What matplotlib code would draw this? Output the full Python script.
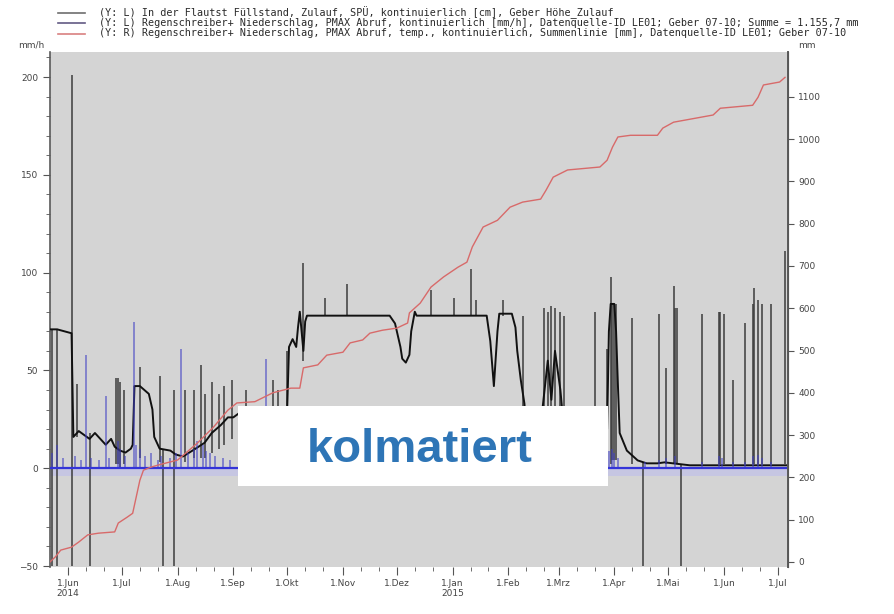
import matplotlib
matplotlib.use("Agg")
import matplotlib.pyplot as plt
import matplotlib.dates as mdates
from matplotlib.lines import Line2D
from matplotlib.patches import Rectangle
import pandas as pd

W, H = 895, 614

# Fuellstand Zulauf [cm] (left axis), smooth part of the trace
LEVEL_DATES = [
    "2014-05-22", "2014-05-26", "2014-06-03", "2014-06-04", "2014-06-07", "2014-06-10",
    "2014-06-13", "2014-06-16", "2014-06-19", "2014-06-22", "2014-06-25", "2014-06-27",
    "2014-06-30", "2014-07-03", "2014-07-06", "2014-07-07", "2014-07-08", "2014-07-11",
    "2014-07-16", "2014-07-18", "2014-07-19", "2014-07-22", "2014-07-28", "2014-07-31",
    "2014-08-04", "2014-08-11", "2014-08-16", "2014-08-20", "2014-08-25", "2014-08-29",
    "2014-09-01", "2014-09-04", "2014-09-16", "2014-09-30", "2014-10-01", "2014-10-02",
    "2014-10-04", "2014-10-06", "2014-10-07", "2014-10-08", "2014-10-10", "2014-10-11",
    "2014-10-12", "2014-11-27", "2014-11-30", "2014-12-03", "2014-12-04", "2014-12-06",
    "2014-12-08", "2014-12-09", "2014-12-11", "2014-12-12", "2015-01-20", "2015-01-22",
    "2015-01-24", "2015-01-26", "2015-01-27", "2015-02-03", "2015-02-05", "2015-02-06",
    "2015-02-08", "2015-02-10", "2015-02-11", "2015-02-13", "2015-02-19", "2015-02-20",
    "2015-02-23", "2015-02-25", "2015-02-27", "2015-03-02", "2015-03-04", "2015-03-06",
    "2015-03-21", "2015-03-28", "2015-03-29", "2015-03-30", "2015-04-01", "2015-04-02",
    "2015-04-03", "2015-04-04", "2015-04-08", "2015-04-14", "2015-04-19", "2015-04-25",
    "2015-04-29", "2015-05-13", "2015-07-06",
]
LEVEL_VALUES = [
    71, 71, 69, 16, 19, 17,
    15, 18, 15, 12, 15, 11,
    9, 8, 10, 12, 42, 42,
    38, 30, 16, 10, 9, 7,
    6, 10, 13, 18, 22, 26,
    26, 28, 29, 30, 31, 62,
    66, 62, 72, 80, 60, 75,
    78, 78, 74, 62, 56, 54,
    58, 70, 80, 78, 78, 65,
    42, 70, 79, 79, 72, 60,
    45, 33, 20, 10, 10, 30,
    55, 35, 60, 40, 20, 10,
    8, 20, 70, 84, 84, 70,
    43, 18, 9, 4, 2.5, 2.5,
    3, 1.5, 1.5,
]

# short excursions of the level sensor (bottom, top) [cm]
SPIKE_DATES = [
    "2014-05-23", "2014-05-26", "2014-06-03", "2014-06-06", "2014-06-13", "2014-06-28",
    "2014-06-29", "2014-06-30", "2014-07-02", "2014-07-11", "2014-07-22", "2014-07-24",
    "2014-07-30", "2014-08-05", "2014-08-10", "2014-08-14", "2014-08-16", "2014-08-20",
    "2014-08-24", "2014-08-27", "2014-08-31", "2014-09-08", "2014-09-23", "2014-09-26",
    "2014-10-01", "2014-10-10", "2014-10-22", "2014-11-03", "2014-12-20", "2015-01-02",
    "2015-01-11", "2015-01-14", "2015-01-29", "2015-02-09", "2015-02-21", "2015-02-23",
    "2015-02-25", "2015-02-27", "2015-03-02", "2015-03-04", "2015-03-21", "2015-03-28",
    "2015-03-30", "2015-03-31", "2015-04-01", "2015-04-02", "2015-04-11", "2015-04-17",
    "2015-04-26", "2015-04-30", "2015-05-04", "2015-05-05", "2015-05-06", "2015-05-08",
    "2015-05-20", "2015-05-29", "2015-05-30", "2015-06-01", "2015-06-06", "2015-06-13",
    "2015-06-17", "2015-06-18", "2015-06-20", "2015-06-22", "2015-06-27", "2015-07-05",
]
SPIKE_LOW = [
    -50, -50, -50, 16, -50, 2,
    2, 0, 2, 5, 3, -50,
    -50, 3, 5, 5, 5, 8,
    10, 12, 15, 28, 28, 28,
    28, 55, 78, 78, 78, 78,
    78, 78, 78, 10, 10, 10,
    10, 10, 10, 10, 2, 2,
    2, 4, 4, 4, 2, -50,
    2, 2, 2, 2, 2, -50,
    2, 2, 2, 2, 2, 2,
    2, 2, 2, 2, 2, 2,
]
SPIKE_HIGH = [
    71, 71, 201, 43, 18, 46,
    46, 44, 40, 52, 47, 10,
    40, 40, 40, 53, 38, 44,
    38, 42, 45, 40, 45, 40,
    60, 105, 87, 94, 91, 87,
    102, 86, 86, 78, 82, 80,
    83, 82, 80, 78, 80, 61,
    98, 84, 84, 84, 77, 3,
    79, 51, 93, 82, 82, 2,
    79, 80, 80, 79, 45, 74,
    84, 92, 86, 84, 84, 111,
]

# Niederschlag [mm/h] (left axis)
RAIN_DATES = [
    "2014-05-23", "2014-05-26", "2014-05-29", "2014-06-05", "2014-06-08", "2014-06-11",
    "2014-06-14", "2014-06-18", "2014-06-22", "2014-06-24", "2014-06-29", "2014-06-30",
    "2014-07-03", "2014-07-08", "2014-07-09", "2014-07-11", "2014-07-14", "2014-07-17",
    "2014-07-21", "2014-07-23", "2014-07-28", "2014-07-31", "2014-08-03", "2014-08-07",
    "2014-08-10", "2014-08-12", "2014-08-15", "2014-08-17", "2014-08-19", "2014-08-22",
    "2014-08-26", "2014-08-30", "2014-09-19", "2014-10-05", "2014-10-08", "2014-10-10",
    "2015-03-29", "2015-03-31", "2015-04-01", "2015-04-03", "2015-04-18", "2015-04-26",
    "2015-04-30", "2015-05-05", "2015-05-20", "2015-05-29", "2015-05-31", "2015-06-06",
    "2015-06-13", "2015-06-17", "2015-06-20", "2015-06-22", "2015-06-27",
]
RAIN_VALUES = [
    8, 12, 5, 6, 4, 58,
    5, 4, 37, 5, 14, 10,
    6, 75, 12, 10, 6, 8,
    4, 6, 5, 8, 61, 8,
    10, 14, 12, 9, 8, 6,
    5, 4, 56, 6, 15, 10,
    9, 10, 8, 5, 3, 4,
    5, 6, 3, 6, 5, 3,
    3, 6, 7, 5, 3,
]

# Niederschlag Summenlinie [mm] (right axis)
SUM_DATES = [
    "2014-05-22", "2014-05-25", "2014-05-28", "2014-06-03", "2014-06-07", "2014-06-12",
    "2014-06-18", "2014-06-27", "2014-06-29", "2014-07-04", "2014-07-07", "2014-07-09",
    "2014-07-11", "2014-07-13", "2014-07-17", "2014-07-22", "2014-08-01", "2014-08-12",
    "2014-08-21", "2014-08-29", "2014-09-03", "2014-09-13", "2014-09-23", "2014-10-03",
    "2014-10-08", "2014-10-10", "2014-10-18", "2014-10-23", "2014-11-01", "2014-11-05",
    "2014-11-12", "2014-11-16", "2014-11-23", "2014-12-01", "2014-12-07", "2014-12-08",
    "2014-12-14", "2014-12-20", "2014-12-27", "2015-01-04", "2015-01-09", "2015-01-12",
    "2015-01-18", "2015-01-26", "2015-02-02", "2015-02-09", "2015-02-19", "2015-02-22",
    "2015-02-26", "2015-03-06", "2015-03-24", "2015-03-28", "2015-03-31", "2015-04-03",
    "2015-04-10", "2015-04-25", "2015-04-28", "2015-05-04", "2015-05-26", "2015-05-30",
    "2015-06-17", "2015-06-20", "2015-06-23", "2015-07-02", "2015-07-05",
]
SUM_VALUES = [
    0, 12, 28, 35, 47, 64,
    68, 71, 92, 106, 115, 154,
    193, 217, 224, 230, 241, 281,
    319, 359, 376, 379, 400, 411,
    411, 459, 466, 489, 496, 518,
    525, 541, 548, 553, 565, 589,
    612, 650, 674, 697, 709, 745,
    792, 808, 839, 851, 858, 879,
    910, 927, 934, 950, 981, 1005,
    1009, 1009, 1026, 1040, 1057, 1073,
    1080, 1099, 1128, 1135, 1146,
]

MONTH_TICKS = [
    "2014-06-01", "2014-07-01", "2014-08-01", "2014-09-01", "2014-10-01", "2014-11-01",
    "2014-12-01", "2015-01-01", "2015-02-01", "2015-03-01", "2015-04-01", "2015-05-01",
    "2015-06-01", "2015-07-01",
]
MONTH_LABELS = [
    "1.Jun\n2014", "1.Jul", "1.Aug", "1.Sep", "1.Okt", "1.Nov",
    "1.Dez", "1.Jan\n2015", "1.Feb", "1.Mrz", "1.Apr", "1.Mai",
    "1.Jun", "1.Jul",
]

LEGEND_TEXTS = [
    "(Y: L) In der Flautst Füllstand, Zulauf, SPÜ, kontinuierlich [cm], Geber Höhe_Zulauf",
    "(Y: L) Regenschreiber+ Niederschlag, PMAX Abruf, kontinuierlich [mm/h], "
    "Datenquelle-ID LE01; Geber 07-10; Summe = 1.155,7 mm",
    "(Y: R) Regenschreiber+ Niederschlag, PMAX Abruf, temp., kontinuierlich, "
    "Summenlinie [mm], Datenquelle-ID LE01; Geber 07-10",
]
LEGEND_COLORS = ["#6e6e6e", "#625a84", "#d98080"]

BG = "#d4d4d4"
TICK_COLOR = "#555555"


def fx(px):
    return px / W


def fy(py):
    return 1 - py / H


fig = plt.figure(figsize=(W / 100, H / 100), dpi=100)
ax = fig.add_axes([fx(50), fy(567), fx(788) - fx(50), fy(52) - fy(567)])
ax.set_facecolor(BG)

level_dates = pd.to_datetime(LEVEL_DATES)
spike_dates = pd.to_datetime(SPIKE_DATES)
rain_dates = pd.to_datetime(RAIN_DATES)
sum_dates = pd.to_datetime(SUM_DATES)

# zero line of the rain gauge
ax.axhspan(-4, 0, color="#c6c6e2", lw=0, zorder=1)
ax.axhline(0, color="#3434d8", lw=1.6, zorder=5)

ax.vlines(spike_dates, SPIKE_LOW, SPIKE_HIGH, color="#3c3c3c", lw=1.1, zorder=2)
ax.plot(level_dates, LEVEL_VALUES, color="#111111", lw=1.4, zorder=3)
ax.vlines(rain_dates, 0, RAIN_VALUES, color="#4040c4", lw=1.1, alpha=0.7, zorder=4)

ax.set_xlim(pd.Timestamp("2014-05-22"), pd.Timestamp("2015-07-06 16:00"))
ax.set_ylim(-50.5, 212.8)

ax.set_xticks(pd.to_datetime(MONTH_TICKS))
ax.set_xticklabels(MONTH_LABELS)
ax.xaxis.set_minor_locator(mdates.DayLocator(bymonthday=[11, 21]))
ax.set_yticks([-50, 0, 50, 100, 150, 200])
ax.set_yticks(range(-50, 211, 10), minor=True)

ax.tick_params(axis="x", which="major", length=6, width=0.8, color=TICK_COLOR,
               labelsize=6.5, labelcolor="#444444", pad=3)
ax.tick_params(axis="x", which="minor", length=3, width=0.6, color=TICK_COLOR)
ax.tick_params(axis="y", which="major", length=5, width=0.8, color=TICK_COLOR,
               labelsize=6.5, labelcolor="#444444")
ax.tick_params(axis="y", which="minor", length=3, width=0.6, color=TICK_COLOR)
for lbl in ax.get_xticklabels():
    lbl.set_linespacing(1.1)

for side in ("top", "bottom"):
    ax.spines[side].set_visible(False)
ax.spines["left"].set_color("#5a5a5a")
ax.spines["left"].set_linewidth(1.2)

ax2 = ax.twinx()
ax2.plot(sum_dates, SUM_VALUES, color="#d86a6a", lw=1.0, zorder=3)
ax2.set_ylim(-12, 1206)
ax2.set_yticks(range(0, 1101, 100))
ax2.tick_params(axis="y", length=4, width=0.8, color=TICK_COLOR,
                labelsize=6.5, labelcolor="#444444")
for side in ("top", "bottom", "left"):
    ax2.spines[side].set_visible(False)
ax2.spines["right"].set_color("#5a5a5a")
ax2.spines["right"].set_linewidth(1.4)

# unit labels
fig.text(fx(18), fy(45), "mm/h", fontsize=6.5, color="#444444", va="center")
fig.text(fx(798), fy(45), "mm", fontsize=6.5, color="#444444", va="center")

# legend rows in the header
for i, (txt, col) in enumerate(zip(LEGEND_TEXTS, LEGEND_COLORS)):
    y = fy(12.5 + 10.5 * i)
    fig.add_artist(Line2D([fx(58), fx(85)], [y, y], color=col, lw=1.2,
                          transform=fig.transFigure))
    fig.text(fx(99), y, txt, family="DejaVu Sans Mono", fontsize=7.3,
             color="#2a2a2a", va="center", ha="left")

# annotation box
fig.add_artist(Rectangle((fx(238), fy(486)), fx(608) - fx(238), fy(406) - fy(486),
                         transform=fig.transFigure, facecolor="white",
                         edgecolor="none", zorder=10))
fig.text(fx(420), fy(462), "kolmatiert", family="Liberation Sans", weight="bold",
         fontsize=34, color="#2e75b6", ha="center", va="baseline", zorder=11)

fig.savefig("out.png", dpi=100)
